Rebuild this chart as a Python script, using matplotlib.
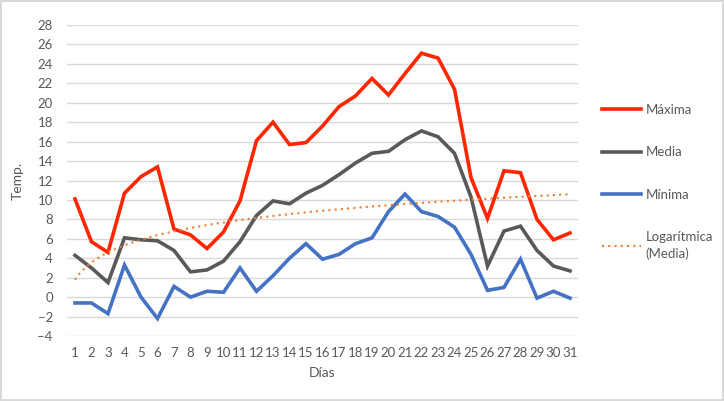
import numpy as np
from matplotlib import pyplot as plt

dias = list(range(1, 32))
maxima = [10.1, 5.7, 4.6, 10.7, 12.4, 13.4, 7.0, 6.4, 5.0, 6.7, 9.9, 16.1, 18.0, 15.7, 15.9, 17.6,
          19.6, 20.7, 22.5, 20.8, 23.0, 25.1, 24.6, 21.4, 12.3, 8.1, 13.0, 12.8, 8.0, 5.9, 6.6]
media = [4.3, 3.0, 1.5, 6.1, 5.9, 5.8, 4.8, 2.6, 2.8, 3.7, 5.7, 8.4, 9.9, 9.6, 10.7, 11.5,
         12.6, 13.8, 14.8, 15.0, 16.2, 17.1, 16.5, 14.8, 10.3, 3.2, 6.8, 7.3, 4.8, 3.2, 2.7]
minima = [-0.6, -0.6, -1.7, 3.3, 0.0, -2.2, 1.1, 0.0, 0.6, 0.5, 3.0, 0.6, 2.2, 4.0, 5.5, 3.9,
          4.4, 5.5, 6.1, 8.8, 10.6, 8.8, 8.3, 7.2, 4.4, 0.7, 1.0, 3.9, -0.1, 0.6, -0.1]

plt.rcParams['font.family'] = ['Lato', 'DejaVu Sans']

fig = plt.figure(figsize=(7.24, 4.01), dpi=100)
fig.patch.set_edgecolor('#d9d9d9')
fig.patch.set_linewidth(1.5)
ax = fig.add_axes([66.75 / 724, 1 - 336 / 401, (578.25 - 66.75) / 724, (336 - 25) / 401])

x = np.array(dias)
ax.plot(x, maxima, color='#ff2600', lw=2.6, label='Máxima', solid_joinstyle='miter')
ax.plot(x, media, color='#595959', lw=2.6, label='Media', solid_joinstyle='miter')
ax.plot(x, minima, color='#4472c4', lw=2.6, label='Mínima', solid_joinstyle='miter')

# linea de tendencia logaritmica de la media
a, b = np.polyfit(np.log(x), media, 1)
xt = np.linspace(1, 31, 200)
ax.plot(xt, a * np.log(xt) + b, color='#ed7d31', lw=1.5, ls=(0, (1, 2)), label='Logarítmica\n(Media)')

ax.set_xlim(0.5, 31.5)
ax.set_ylim(-4, 28)
ax.set_yticks(range(-4, 29, 2))
ax.set_xticks(dias)
ax.grid(axis='y', color='#d9d9d9', lw=1)
ax.set_axisbelow(True)
for s in ax.spines.values():
    s.set_visible(False)
ax.tick_params(length=0, colors='#595959', labelsize=9.5, pad=8)
ax.tick_params(axis='y', pad=10)

ax.set_xlabel('Días', color='#595959', fontsize=10, labelpad=6)
ax.set_ylabel('Temp.', color='#595959', fontsize=10, labelpad=10)

leg = ax.legend(loc='upper left', bbox_to_anchor=(590 / 724, 1 - 92 / 401), bbox_transform=fig.transFigure,
                frameon=False, fontsize=9.5, labelspacing=2.3, handlelength=3.0, handletextpad=0.3,
                labelcolor='#595959')
for t in leg.get_texts():
    t.set_linespacing(1.4)

fig.savefig('out.png', dpi=100)
